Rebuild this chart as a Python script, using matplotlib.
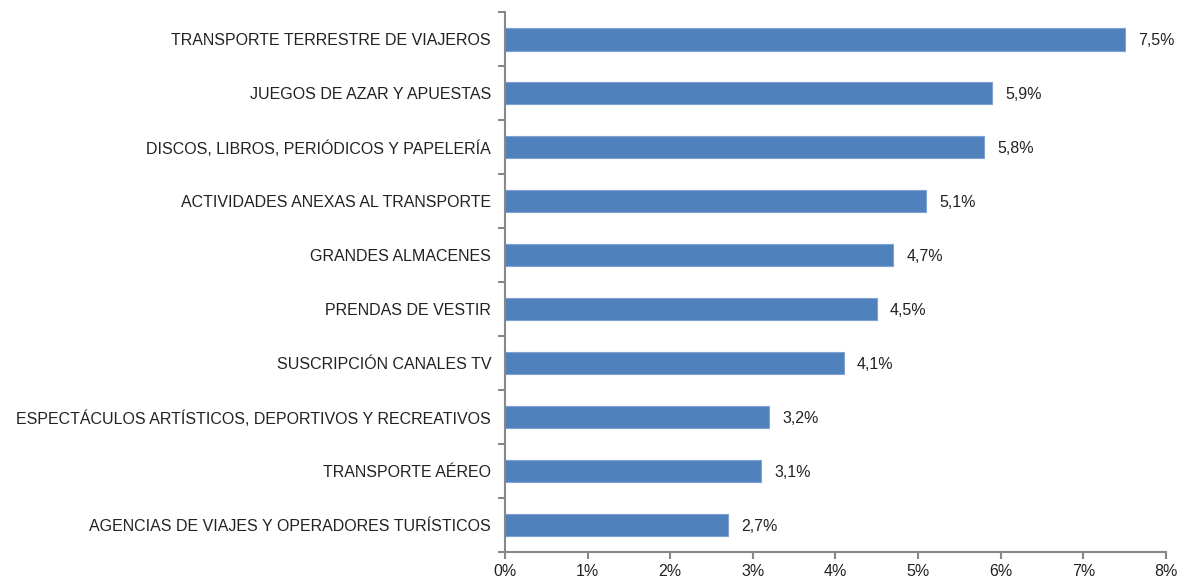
import numpy as np
import matplotlib.pyplot as plt

categories = [
    "TRANSPORTE TERRESTRE DE VIAJEROS",
    "JUEGOS DE AZAR Y APUESTAS",
    "DISCOS, LIBROS, PERIÓDICOS Y PAPELERÍA",
    "ACTIVIDADES ANEXAS AL TRANSPORTE",
    "GRANDES ALMACENES",
    "PRENDAS DE VESTIR",
    "SUSCRIPCIÓN CANALES TV",
    "ESPECTÁCULOS ARTÍSTICOS, DEPORTIVOS Y RECREATIVOS",
    "TRANSPORTE AÉREO",
    "AGENCIAS DE VIAJES Y OPERADORES TURÍSTICOS",
]
values = [7.5, 5.9, 5.8, 5.1, 4.7, 4.5, 4.1, 3.2, 3.1, 2.7]
xticks = [0, 1, 2, 3, 4, 5, 6, 7, 8]

plt.rcParams['font.family'] = ['Liberation Sans', 'DejaVu Sans']
fs = 11.5
tc = '#222222'

fig = plt.figure(figsize=(11.86, 5.8), dpi=100)
ax = fig.add_axes([0.4258, 0.0483, 0.5573, 0.9307])

y = np.arange(len(categories))
ax.barh(y, values, height=0.42, color='#4F81BD', edgecolor='#7EA3D0', linewidth=0.8)
for yi, v in zip(y, values):
    ax.text(v + 0.16, yi + 0.03, f"{v:.1f}%".replace('.', ','), va='center', ha='left',
            fontsize=fs, color=tc)

ax.set_ylim(len(categories) - 0.5, -0.5)
ax.set_xlim(0, 8)
ax.set_xticks(xticks)
ax.set_xticklabels([f"{t}%" for t in xticks], fontsize=fs, color=tc)

# category boundary ticks on y axis, labels centered on bars
ax.set_yticks(np.arange(len(categories) + 1) - 0.5)
ax.set_yticklabels([])
ax.set_yticks(y, minor=True)
ax.set_yticklabels(categories, minor=True, fontsize=fs, color=tc)
ax.tick_params(axis='y', which='minor', length=0, pad=10)
ax.tick_params(axis='y', which='major', length=5, width=1.5, color='#888888', direction='out')
ax.tick_params(axis='x', length=5, width=1.5, color='#888888', direction='out', pad=4)

for s in ['top', 'right']:
    ax.spines[s].set_visible(False)
for s in ['left', 'bottom']:
    ax.spines[s].set_color('#888888')
    ax.spines[s].set_linewidth(1.5)

fig.savefig('out.png', dpi=100, facecolor='white')
